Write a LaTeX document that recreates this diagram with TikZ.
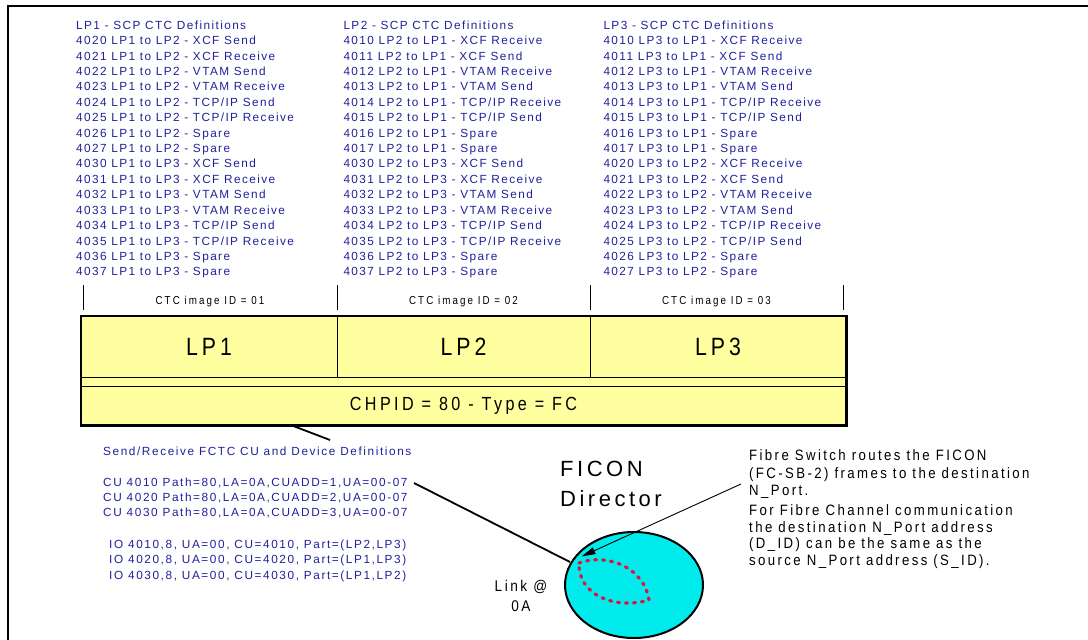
\documentclass[tikz,border=0pt]{standalone}
\usepackage{fontspec}
\setmainfont{Liberation Sans}
\newfontfamily\bluefnt[LetterSpace=12]{Liberation Sans}
\newfontfamily\bluefntb[LetterSpace=13.5]{Liberation Sans}
\newfontfamily\narrowA[FakeStretch=0.85,LetterSpace=18]{Liberation Sans}
\newfontfamily\narrowB[FakeStretch=0.85,LetterSpace=16]{Liberation Sans}
\newfontfamily\narrowC[FakeStretch=0.88,LetterSpace=16]{Liberation Sans}
\newfontfamily\bigfnt[LetterSpace=16]{Liberation Sans}
\usetikzlibrary{arrows.meta,shapes.geometric}
\definecolor{dblue}{RGB}{32,32,155}
\definecolor{lpyel}{RGB}{255,255,160}
\definecolor{dircyan}{RGB}{0,236,236}
\definecolor{dotred}{RGB}{220,20,60}
\tikzset{
  bluetxt/.style={anchor=base west, inner sep=0, text=dblue, font=\bluefnt\fontsize{11.8}{13}\selectfont},
  bluetxtb/.style={anchor=base west, inner sep=0, text=dblue, font=\bluefntb\fontsize{11.8}{13}\selectfont},
  ctclbl/.style={inner sep=0, font=\narrowA\fontsize{11.5}{13}\selectfont},
  lpcell/.style={draw, line width=0.8pt, fill=lpyel, inner sep=0, font=\narrowB\fontsize{25}{28}\selectfont},
  tickline/.style={line width=0.9pt},
  conn/.style={line width=1.8pt},
  notetxt/.style={anchor=base west, inner sep=0, font=\narrowC\fontsize{15}{17}\selectfont},
  bigtxt/.style={anchor=base west, inner sep=0, font=\bigfnt\fontsize{22}{26}\selectfont},
}
\begin{document}
\begin{tikzpicture}[x=1pt,y=-1pt]
\useasboundingbox (0,0) rectangle (1088,640);
% frame
\draw[line width=1.6pt] (8,640) -- (8,6) -- (1088,6);
% column 1
\foreach \t [count=\i from 0] in {LP1 - SCP CTC Definitions,
 4020 LP1 to LP2 - XCF Send, 4021 LP1 to LP2 - XCF Receive,
 4022 LP1 to LP2 - VTAM Send, 4023 LP1 to LP2 - VTAM Receive,
 4024 LP1 to LP2 - TCP/IP Send, 4025 LP1 to LP2 - TCP/IP Receive,
 4026 LP1 to LP2 - Spare, 4027 LP1 to LP2 - Spare,
 4030 LP1 to LP3 - XCF Send, 4031 LP1 to LP3 - XCF Receive,
 4032 LP1 to LP3 - VTAM Send, 4033 LP1 to LP3 - VTAM Receive,
 4034 LP1 to LP3 - TCP/IP Send, 4035 LP1 to LP3 - TCP/IP Receive,
 4036 LP1 to LP3 - Spare, 4037 LP1 to LP3 - Spare}
 \node[bluetxt] (ca\i) at (76,{29.2+15.42*\i}) {\t};
% column 2
\foreach \t [count=\i from 0] in {LP2 - SCP CTC Definitions,
 4010 LP2 to LP1 - XCF Receive, 4011 LP2 to LP1 - XCF Send,
 4012 LP2 to LP1 - VTAM Receive, 4013 LP2 to LP1 - VTAM Send,
 4014 LP2 to LP1 - TCP/IP Receive, 4015 LP2 to LP1 - TCP/IP Send,
 4016 LP2 to LP1 - Spare, 4017 LP2 to LP1 - Spare,
 4030 LP2 to LP3 - XCF Send, 4031 LP2 to LP3 - XCF Receive,
 4032 LP2 to LP3 - VTAM Send, 4033 LP2 to LP3 - VTAM Receive,
 4034 LP2 to LP3 - TCP/IP Send, 4035 LP2 to LP3 - TCP/IP Receive,
 4036 LP2 to LP3 - Spare, 4037 LP2 to LP3 - Spare}
 \node[bluetxt] (cb\i) at (343.3,{29.2+15.42*\i}) {\t};
% column 3
\foreach \t [count=\i from 0] in {LP3 - SCP CTC Definitions,
 4010 LP3 to LP1 - XCF Receive, 4011 LP3 to LP1 - XCF Send,
 4012 LP3 to LP1 - VTAM Receive, 4013 LP3 to LP1 - VTAM Send,
 4014 LP3 to LP1 - TCP/IP Receive, 4015 LP3 to LP1 - TCP/IP Send,
 4016 LP3 to LP1 - Spare, 4017 LP3 to LP1 - Spare,
 4020 LP3 to LP2 - XCF Receive, 4021 LP3 to LP2 - XCF Send,
 4022 LP3 to LP2 - VTAM Receive, 4023 LP3 to LP2 - VTAM Send,
 4024 LP3 to LP2 - TCP/IP Receive, 4025 LP3 to LP2 - TCP/IP Send,
 4026 LP3 to LP2 - Spare, 4027 LP3 to LP2 - Spare}
 \node[bluetxt] (cc\i) at (603.3,{29.2+15.42*\i}) {\t};
% ticks and CTC image labels
\foreach \x in {83,337,590,843} \draw[tickline] (\x,285) -- (\x,310);
\node[ctclbl] (id1) at (210,301.5) {CTC image ID = 01};
\node[ctclbl] (id2) at (463.5,301.5) {CTC image ID = 02};
\node[ctclbl] (id3) at (716.5,301.5) {CTC image ID = 03};
% LP box
\node[lpcell, minimum width=256pt, minimum height=61pt] (lp1) at (209,346.5) {LP1};
\node[lpcell, minimum width=253pt, minimum height=61pt] (lp2) at (463.5,346.5) {LP2};
\node[lpcell, minimum width=256pt, minimum height=61pt] (lp3) at (718,346.5) {LP3};
\node[lpcell, minimum width=765pt, minimum height=9pt] (band) at (463.5,381.5) {};
\node[lpcell, minimum width=765pt, minimum height=39pt, font=\narrowA\fontsize{19}{22}\selectfont] (chpid) at (463.5,405.5) {CHPID = 80 - Type = FC};
\draw[line width=2.2pt] (lp1.north west) rectangle (chpid.south east);
% connector from channel
\coordinate (k1) at (292,425.5);
\coordinate (k2) at (330,440);
\draw[conn] (k1) -- (k2);
% definitions text
\node[bluetxtb] (sr) at (103,455) {Send/Receive FCTC CU and Device Definitions};
\node[bluetxtb] (cu1) at (103,486.2) {CU 4010 Path=80,LA=0A,CUADD=1,UA=00-07};
\node[bluetxtb] (cu2) at (103,501.7) {CU 4020 Path=80,LA=0A,CUADD=2,UA=00-07};
\node[bluetxtb] (cu3) at (103,516.9) {CU 4030 Path=80,LA=0A,CUADD=3,UA=00-07};
\node[bluetxtb] (io1) at (109,548.2) {IO 4010,8, UA=00, CU=4010, Part=(LP2,LP3)};
\node[bluetxtb] (io2) at (109,563.7) {IO 4020,8, UA=00, CU=4020, Part=(LP1,LP3)};
\node[bluetxtb] (io3) at (109,579.2) {IO 4030,8, UA=00, CU=4030, Part=(LP1,LP2)};
% director
\node[ellipse, draw, fill=dircyan, line width=2pt, minimum width=138pt, minimum height=106pt, inner sep=0] (dir) at (634,585) {};
\draw[dotred, line width=3.2pt, dash pattern=on 2pt off 6pt, line cap=round]
  (579,563) .. controls (610,552) and (645,570) .. (649,600)
  .. controls (615,610) and (578,595) .. (579,563);
\coordinate (cuend) at (414,483);
\coordinate (dirin) at (570,562);
\draw[conn] (cuend) -- (dirin);
\node[bigtxt] (ficon) at (560,476.5) {FICON};
\node[bigtxt] (dirlbl) at (560,506.5) {Director};
\node[align=center, inner sep=0, font=\narrowC\fontsize{15.5}{20.5}\selectfont] (link) at (521,596) {Link @\\0A};
% note
\node[notetxt] (n1) at (749,460.5) {Fibre Switch routes the FICON};
\node[notetxt] (n2) at (749,478.5) {(FC-SB-2) frames to the destination};
\node[notetxt] (n3) at (749,495.5) {N\_Port.};
\node[notetxt] (n4) at (749,515) {For Fibre Channel communication};
\node[notetxt] (n5) at (749,532) {the destination N\_Port address};
\node[notetxt] (n6) at (749,548.5) {(D\_ID) can be the same as the};
\node[notetxt] (n7) at (749,565.5) {source N\_Port address (S\_ID).};
\coordinate (arrs) at (741,484);
\coordinate (arrt) at (581.5,556.5);
\draw[-{Triangle[length=14pt,width=7pt]}, line width=0.9pt] (arrs) -- (arrt);
\end{tikzpicture}
\end{document}
